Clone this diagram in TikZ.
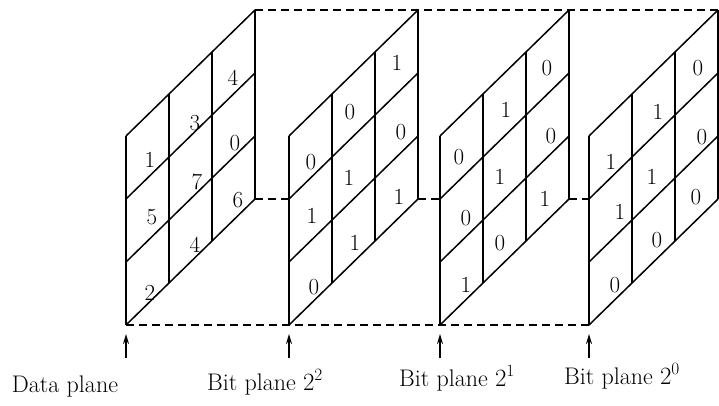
\documentclass[tikz,border=0pt]{standalone}
\usetikzlibrary{arrows.meta}
\begin{document}
\begin{tikzpicture}[x=1pt,y=-1pt,
  vline/.style={line width=1.9pt},
  dline/.style={line width=1.5pt},
  hidden/.style={line width=1.2pt, dash pattern=on 8pt off 5pt},
  num/.style={font=\fontsize{23}{27}\selectfont, inner sep=0pt},
  lab/.style={font=\fontsize{24}{28}\selectfont, inner sep=0pt, anchor=base},
  up/.style={line width=1.6pt, -{Stealth[length=10pt,width=6pt]}}]
\useasboundingbox (0,0) rectangle (719,405);

\foreach \n/\x in {a/126,b/289,c/440,d/589} {
  \coordinate (\n-bl) at (\x,325);
  \coordinate (\n-tl) at (\x,136);
  \coordinate (\n-ml) at (\x,199);
  \coordinate (\n-br) at (\x+129,199);
  \coordinate (\n-tr) at (\x+129,10);
  \coordinate (\n-ar) at (\x,358);
  \coordinate (\n-at) at (\x,334);
  \foreach \j in {0,1,2,3} \draw[vline] (\x+43*\j,325-42*\j) -- ++(0,-189);
  \foreach \k in {0,1,2,3} \draw[dline] (\x,325-63*\k) -- ++(129,-126);
}

% hidden edges of the stack
\draw[hidden] (a-tr) -- (d-tr);
\draw[hidden] (a-bl) -- (d-bl);
\draw[hidden] (a-br) -- (b-ml);
\draw[hidden] (b-br) -- (c-ml);
\draw[hidden] (c-br) -- (d-ml);

% arrows
\foreach \n in {a,b,c,d} \draw[up] (\n-ar) -- (\n-at);

% data plane
\node[num] (a1) at (233,78) {4};
\node[num] (a2) at (195,123) {3};
\node[num] (a3) at (235,143) {0};
\node[num] (a4) at (150,160) {1};
\node[num] (a5) at (197,182) {7};
\node[num] (a6) at (238,200) {6};
\node[num] (a7) at (152,217) {5};
\node[num] (a8) at (195,245) {4};
\node[num] (a9) at (150,293) {2};
% bit plane 2^2
\node[num] (b1) at (397,63) {1};
\node[num] (b2) at (350,112) {0};
\node[num] (b3) at (401,132) {0};
\node[num] (b4) at (311,162) {0};
\node[num] (b5) at (349,178) {1};
\node[num] (b6) at (399,197) {1};
\node[num] (b7) at (312,216) {1};
\node[num] (b8) at (355,243) {1};
\node[num] (b9) at (314,287) {0};
% bit plane 2^1
\node[num] (c1) at (547,68) {0};
\node[num] (c2) at (506,110) {1};
\node[num] (c3) at (551,136) {0};
\node[num] (c4) at (459,157) {0};
\node[num] (c5) at (500,177) {1};
\node[num] (c6) at (545,199) {1};
\node[num] (c7) at (466,218) {0};
\node[num] (c8) at (500,243) {0};
\node[num] (c9) at (466,285) {1};
% bit plane 2^0
\node[num] (d1) at (698,68) {0};
\node[num] (d2) at (658,112) {1};
\node[num] (d3) at (702,137) {0};
\node[num] (d4) at (611,162) {1};
\node[num] (d5) at (652,177) {1};
\node[num] (d6) at (696,197) {0};
\node[num] (d7) at (620,212) {1};
\node[num] (d8) at (657,240) {0};
\node[num] (d9) at (615,285) {0};

% labels
\node[lab] (la) at (65,392) {Data plane};
\node[lab] (lb) at (265,390) {Bit plane $2^2$};
\node[lab] (lc) at (457,386) {Bit plane $2^1$};
\node[lab] (ld) at (622,384) {Bit plane $2^0$};
\end{tikzpicture}
\end{document}
